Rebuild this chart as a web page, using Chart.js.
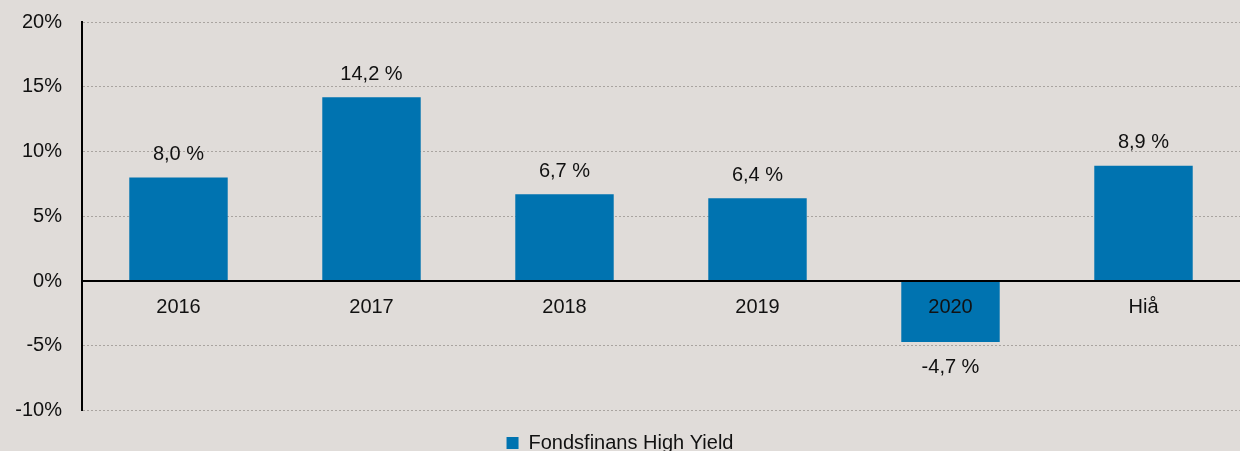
<!DOCTYPE html>
<html>
<head>
<meta charset="utf-8">
<script src="https://cdn.jsdelivr.net/npm/chart.js@4/dist/chart.umd.min.js"></script>
<style>
  html, body { margin: 0; padding: 0; background: #e0dcd9; overflow: hidden; }
  #wrap { width: 1240px; height: 451px; overflow: hidden; }
  #c { display: block; margin-top: -10px; }
</style>
</head>
<body>
<div id="wrap"><canvas id="c" width="1240" height="461"></canvas></div>
<script>
// data
const years = ['2016', '2017', '2018', '2019', '2020', 'Hiå'];
const returns = [8.0, 14.2, 6.7, 6.4, -4.7, 8.9];
const seriesName = 'Fondsfinans High Yield';
const yTicks = [-10, -5, 0, 5, 10, 15, 20];

const BLUE = '#0073b0';
const FONT = "'Liberation Sans', Arial, sans-serif";

function fmtPct(v) {
  return v.toFixed(1).replace('.', ',') + ' %';
}

// value labels above / below each bar, category labels under the zero line
const valueLabels = {
  id: 'valueLabels',
  afterDatasetsDraw(chart) {
    const ctx = chart.ctx;
    const meta = chart.getDatasetMeta(0);
    const xs = chart.scales.x, ys = chart.scales.y;
    const zeroY = ys.getPixelForValue(0);
    ctx.save();
    ctx.font = '20px ' + FONT;
    ctx.fillStyle = '#111111';
    ctx.textAlign = 'center';
    ctx.textBaseline = 'middle';
    meta.data.forEach(function(bar, i) {
      const v = returns[i];
      const y = v >= 0 ? bar.y - 23 : bar.y + 26;
      ctx.fillText(fmtPct(v), bar.x, y);
      ctx.fillText(years[i], xs.getPixelForValue(i), zeroY + 26);
    });
    // zero line on top of the bars
    ctx.strokeStyle = '#000000';
    ctx.lineWidth = 2;
    ctx.beginPath();
    ctx.moveTo(chart.chartArea.left, zeroY);
    ctx.lineTo(chart.chartArea.right, zeroY);
    ctx.stroke();
    ctx.restore();
  }
};

new Chart(document.getElementById('c'), {
  type: 'bar',
  data: {
    labels: years,
    datasets: [{
      label: seriesName,
      data: returns,
      backgroundColor: BLUE,
      borderWidth: 0,
      barPercentage: 0.51,
      categoryPercentage: 1.0
    }]
  },
  options: {
    responsive: false,
    animation: false,
    layout: { padding: { top: 1, right: 0, left: 0, bottom: -12 } },
    plugins: {
      legend: {
        position: 'bottom',
        title: { display: true, text: '', font: { size: 2 }, padding: 10 },
        labels: {
          boxWidth: 12, boxHeight: 12, padding: 0,
          color: '#111111',
          font: { family: FONT, size: 20 }
        }
      },
      tooltip: { enabled: false }
    },
    scales: {
      x: {
        position: { y: 0 },
        grid: { display: false, drawTicks: false },
        border: { display: false },
        ticks: { display: false }
      },
      y: {
        min: -10, max: 20,
        afterFit: function(s) { s.width = 82; },
        afterBuildTicks: function(s) { s.ticks = yTicks.map(function(v) { return { value: v }; }); },
        grid: {
          drawTicks: false,
          color: function(c) { return c.tick.value === 0 ? 'rgba(0,0,0,0)' : '#a9a4a0'; },
          lineWidth: 1
        },
        border: { display: true, color: '#000000', width: 2, dash: [2, 2], dashOffset: 0 },
        ticks: {
          color: '#111111', padding: 20,
          font: { family: FONT, size: 20 },
          callback: function(v) { return v + '%'; }
        }
      }
    }
  },
  plugins: [valueLabels]
});
</script>
</body>
</html>
